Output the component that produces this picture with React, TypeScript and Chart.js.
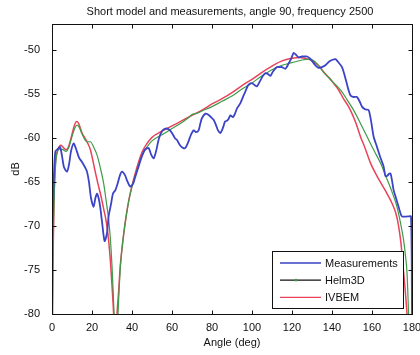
import React, { useEffect, useRef } from "react";
import { Chart, registerables } from "chart.js";

Chart.register(...registerables);

const TITLE = "Short model and measurements, angle 90, frequency 2500";
const X_LABEL = "Angle (deg)";
const Y_LABEL = "dB";
const X_TICKS = [0, 20, 40, 60, 80, 100, 120, 140, 160, 180];
const Y_TICKS = [-80, -75, -70, -65, -60, -55, -50];

// Measured response
const measAngle = [
  0, 0.5, 1, 1.7, 3, 4, 5, 6, 7.5, 8.5, 9.5, 10.8, 12, 13.5, 15, 16.5, 17.5, 18.5, 19.5, 20.8,
  21.7, 22.5, 23.3, 24.1, 25, 26.3, 27.5, 28.3, 29.5, 30.5, 31.7, 33, 34, 35, 36.5, 37.5, 39.1,
  40.5, 41.5, 43.3, 45, 46.5, 48.3, 49.5, 50.8, 52, 53.5, 55, 56.7, 58.5, 60, 61.5, 62.5, 64,
  65.5, 66.7, 68, 69.5, 70.8, 72, 73.3, 74.2, 75, 76.7, 78, 79.5, 80.8, 82, 83, 84.2, 85.5, 86.5,
  87.5, 88.3, 89.2, 90.5, 91.5, 92.5, 94.2, 95.5, 96.8, 98, 99.2, 100.5, 101.5, 102.5, 104,
  105.5, 106.7, 108, 109.2, 110.5, 112.5, 114, 115, 116.7, 118.3, 119.5, 120.8, 122, 123.3,
  125, 126.5, 127.5, 128.8, 130, 131.7, 133.3, 135, 136.7, 138.5, 140, 141.7, 143, 145, 146.5,
  148, 149.2, 150.5, 152.5, 154, 155, 156.5, 158.3, 159.5, 160.8, 162.5, 164.2, 165.8, 166.7,
  167.5, 168.3, 169.2, 170, 170.8, 172, 173.3, 174.2, 175, 178, 179.5, 180,
];
const measDb = [
  -71.5, -68, -64, -61.5, -61.2, -61.0, -62, -63.3, -63.8, -63, -61.5, -60.6, -61.2, -62.2,
  -62.7, -63.3, -63.8, -65, -66.8, -67.8, -66.8, -66.3, -66.8, -67.8, -69.5, -71.7, -70.8,
  -68.9, -67.5, -66.3, -65.9, -65, -64.2, -63.8, -64.2, -64.8, -65.5, -65.2, -64.5, -63.2, -62,
  -61.3, -61.1, -61.8, -62.3, -61.5, -60, -59.2, -58.9, -59.0, -59.4, -60, -60.2, -60.8, -61.1,
  -61.1, -60.5, -59.6, -59.1, -59.3, -59.1, -58.3, -57.7, -57.2, -57.3, -57.6, -57.9, -58.5,
  -59.1, -59.4, -58.8, -58.1, -58.0, -57.8, -57.4, -57.6, -57.2, -56.6, -56.0, -55.3, -54.6,
  -54.0, -53.75, -53.8, -54.0, -54.1, -53.5, -52.9, -52.6, -52.7, -52.9, -52.4, -51.9, -51.9,
  -51.9, -52.1, -51.5, -51.0, -50.3, -50.5, -50.8, -50.7, -50.7, -50.7, -50.9, -51.2, -51.7,
  -52.0, -51.9, -51.7, -51.3, -51.1, -51.0, -51.3, -51.9, -53, -54.3, -55.1, -55.3, -55.3,
  -55.9, -56.4, -56.7, -56.8, -58, -59.8, -61, -62.2, -63.2, -64.3, -64.3, -64.1, -64.0, -64.8,
  -65.9, -66.8, -67.8, -68.5, -68.9, -68.9, -68.9, -80,
];

// Helm3D model
const helmAngle = [
  0, 0.6, 1.2, 2, 3, 4, 5.5, 7, 8.5, 10, 11.5, 12.5, 13.5, 15, 16.5, 17.5, 19.2, 20.8, 22.5,
  24.2, 25.8, 27, 28.3, 29.2, 30, 30.6, 31.1, 32, 32.9, 33.5, 34.3, 35.5, 37, 38.5, 40, 42.5, 45,
  47.5, 50, 55, 60, 65, 68, 70, 72, 75, 80, 85, 90, 95, 100, 105, 110, 115, 120, 125, 129, 132,
  135.8, 140, 144.2, 147.5, 150.8, 154, 157.5, 161, 164.2, 166.7, 169, 172.5, 174.3, 175.8,
  176.8, 177.5, 178.3, 179,
];
const helmDb = [
  -86, -72, -66, -62.5, -61.4, -61.2, -61.3, -61.5, -61.0, -59.8, -58.8, -58.5, -58.7, -59.5,
  -60.2, -60.4, -60.4, -61.0, -61.9, -63.4, -65.1, -67, -69.2, -71.5, -74.5, -77.5, -80.5, -86,
  -80.5, -77.5, -74.3, -71.5, -69, -67, -65.5, -63.6, -62, -61, -60.3, -59.6, -58.9, -58.2,
  -57.7, -57.3, -57.2, -56.9, -56.4, -55.8, -55.2, -54.4, -53.7, -52.9, -52.2, -51.7, -51.4,
  -51.1, -51.0, -51.4, -52.5, -53.5, -54.5, -55.6, -56.8, -58.2, -59.8, -61.4, -62.8, -64.2,
  -65.5, -67.8, -69.7, -71.6, -73.5, -75.3, -80, -85,
];

// IVBEM model
const ivbemAngle = [
  0, 0.5, 1, 1.5, 2.5, 3.5, 4.3, 5.5, 7, 8.2, 9.5, 11, 12.2, 13.3, 15, 16.5, 17.7, 19.2, 20.5,
  21.6, 23, 24.5, 25.8, 27.2, 28.3, 29.3, 30.2, 30.9, 31.6, 32.4, 33.3, 34.1, 35.3, 36.6, 38.2,
  40, 42.5, 45, 47.5, 50, 55, 60, 65, 70, 75, 80, 85, 90, 95, 100, 105, 110, 115, 120, 124, 128,
  131, 134, 136, 138.5, 141, 143, 145.5, 148, 150, 152, 154.2, 156.5, 159.2, 162.5, 165, 167.5,
  170, 172, 173.3, 174.5, 175.5, 176.5, 177.5, 178.5,
];
const ivbemDb = [
  -86, -74, -67, -63.5, -61.6, -61.0, -60.8, -61.0, -61.3, -61.0, -60.0, -58.7, -58.1, -58.3,
  -59.4, -60.0, -60.5, -61.3, -62.6, -63.8, -65.2, -66.6, -68.0, -69.6, -71.6, -74.3, -77.5,
  -80.5, -86, -80.5, -77.5, -74.6, -72, -69.6, -67.3, -65.4, -63.3, -61.6, -60.6, -59.9, -59.2,
  -58.6, -58.0, -57.4, -56.8, -56.1, -55.5, -54.8, -54.0, -53.3, -52.5, -51.8, -51.2, -50.9,
  -50.8, -51.0, -51.3, -51.9, -52.5, -53.1, -53.8, -54.4, -55.4, -56.3, -57.2, -58.3, -59.8,
  -61.1, -62.8, -64.3, -65.3, -66.3, -67.4, -68.6, -70, -72, -74.5, -77, -80, -84,
];

const SERIES = [
  { name: "Measurements", angle: measAngle, db: measDb, color: "#3b43c6", width: 1.8, legendColor: "#3b43c6" },
  { name: "Helm3D", angle: helmAngle, db: helmDb, color: "#3f9a48", width: 1.2, legendColor: "#111111" },
  { name: "IVBEM", angle: ivbemAngle, db: ivbemDb, color: "#e8435a", width: 1.5, legendColor: "#e8435a" },
];

const FONT = "Liberation Sans, Arial, sans-serif";

// Axes box, inward ticks on all four sides, title and legend
const decorPlugin = {
  id: "matlabDecor",
  afterDraw(chart: any) {
    const { ctx, chartArea: a, scales } = chart;
    const xs = scales.x;
    const ys = scales.y;
    ctx.save();
    ctx.strokeStyle = "#111";
    ctx.lineWidth = 1;
    const L = Math.round(a.left) + 0.5;
    const R = Math.round(a.right) + 0.5;
    const T = Math.round(a.top) + 0.5;
    const B = Math.round(a.bottom) + 0.5;
    ctx.strokeRect(L, T, R - L, B - T);
    const tl = 4;
    ctx.beginPath();
    for (const v of X_TICKS) {
      const px = Math.round(xs.getPixelForValue(v)) + 0.5;
      ctx.moveTo(px, B);
      ctx.lineTo(px, B - tl);
      ctx.moveTo(px, T);
      ctx.lineTo(px, T + tl);
    }
    for (const v of Y_TICKS) {
      const py = Math.round(ys.getPixelForValue(v)) + 0.5;
      ctx.moveTo(L, py);
      ctx.lineTo(L + tl, py);
      ctx.moveTo(R, py);
      ctx.lineTo(R - tl, py);
    }
    ctx.stroke();

    // title
    ctx.fillStyle = "#111";
    ctx.font = `11px ${FONT}`;
    ctx.textAlign = "center";
    ctx.textBaseline = "middle";
    ctx.fillText(TITLE, (a.left + a.right) / 2 - 2, 12);

    // legend
    const lx = 272.5;
    const ly = 251.5;
    const lw = 131;
    const lh = 57;
    ctx.fillStyle = "#ffffff";
    ctx.fillRect(lx, ly, lw, lh);
    ctx.strokeStyle = "#111";
    ctx.strokeRect(lx, ly, lw, lh);
    ctx.textAlign = "left";
    SERIES.forEach((s, i) => {
      const y = 263 + i * 17.2;
      ctx.strokeStyle = s.legendColor;
      ctx.lineWidth = 1.3;
      ctx.beginPath();
      ctx.moveTo(280, y);
      ctx.lineTo(321, y);
      ctx.stroke();
      if (s.name === "Helm3D") {
        ctx.fillStyle = s.color;
        ctx.beginPath();
        ctx.arc(296, y, 1.4, 0, Math.PI * 2);
        ctx.fill();
      }
      ctx.fillStyle = "#111";
      ctx.fillText(s.name, 325, y + 0.5);
    });
    ctx.restore();
  },
};

export default function App() {
  const canvasRef = useRef<HTMLCanvasElement | null>(null);

  useEffect(() => {
    const canvas = canvasRef.current;
    if (!canvas) return;
    const chart = new Chart(canvas, {
      type: "line",
      data: {
        datasets: SERIES.map((s) => ({
          label: s.name,
          data: s.angle.map((a, i) => ({ x: a, y: s.db[i] })),
          borderColor: s.color,
          backgroundColor: s.color,
          borderWidth: s.width,
          pointRadius: 0,
          fill: false,
          tension: s.name === "Measurements" ? 0.25 : 0,
          cubicInterpolationMode: s.name === "Measurements" ? "default" : "monotone",
          clip: 0,
        })),
      },
      options: {
        animation: false,
        responsive: false,
        maintainAspectRatio: false,
        events: [],
        layout: { padding: { left: 0, right: 8, top: 24, bottom: 0 } },
        plugins: {
          legend: { display: false },
          title: { display: false },
          tooltip: { enabled: false },
        },
        scales: {
          x: {
            type: "linear",
            min: 0,
            max: 180,
            grid: { display: false },
            border: { display: false },
            ticks: {
              stepSize: 20,
              padding: -1,
              color: "#111",
              font: { family: FONT, size: 11 },
              maxRotation: 0,
            },
            title: {
              display: true,
              text: X_LABEL,
              color: "#111",
              font: { family: FONT, size: 11 },
              padding: { top: 0, bottom: 5 },
            },
            afterFit(scale: any) {
              scale.height = 41;
              scale.paddingLeft = 0;
              scale.paddingRight = 0;
            },
          },
          y: {
            type: "linear",
            min: -80,
            max: -47,
            grid: { display: false },
            border: { display: false },
            ticks: {
              stepSize: 5,
              includeBounds: false,
              padding: 4,
              color: "#111",
              font: { family: FONT, size: 11 },
            },
            title: {
              display: true,
              text: Y_LABEL,
              color: "#111",
              font: { family: FONT, size: 11 },
              padding: { top: 9, bottom: 0 },
            },
            afterFit(scale: any) {
              scale.width = 52;
              scale.paddingTop = 0;
              scale.paddingBottom = 0;
            },
          },
        },
      },
      plugins: [decorPlugin],
    });
    return () => chart.destroy();
  }, []);

  return (
    <div style={{ position: "fixed", left: 0, top: 0, width: 420, height: 355, background: "#fff" }}>
      <canvas ref={canvasRef} width={420} height={355} style={{ width: 420, height: 355 }} />
    </div>
  );
}
